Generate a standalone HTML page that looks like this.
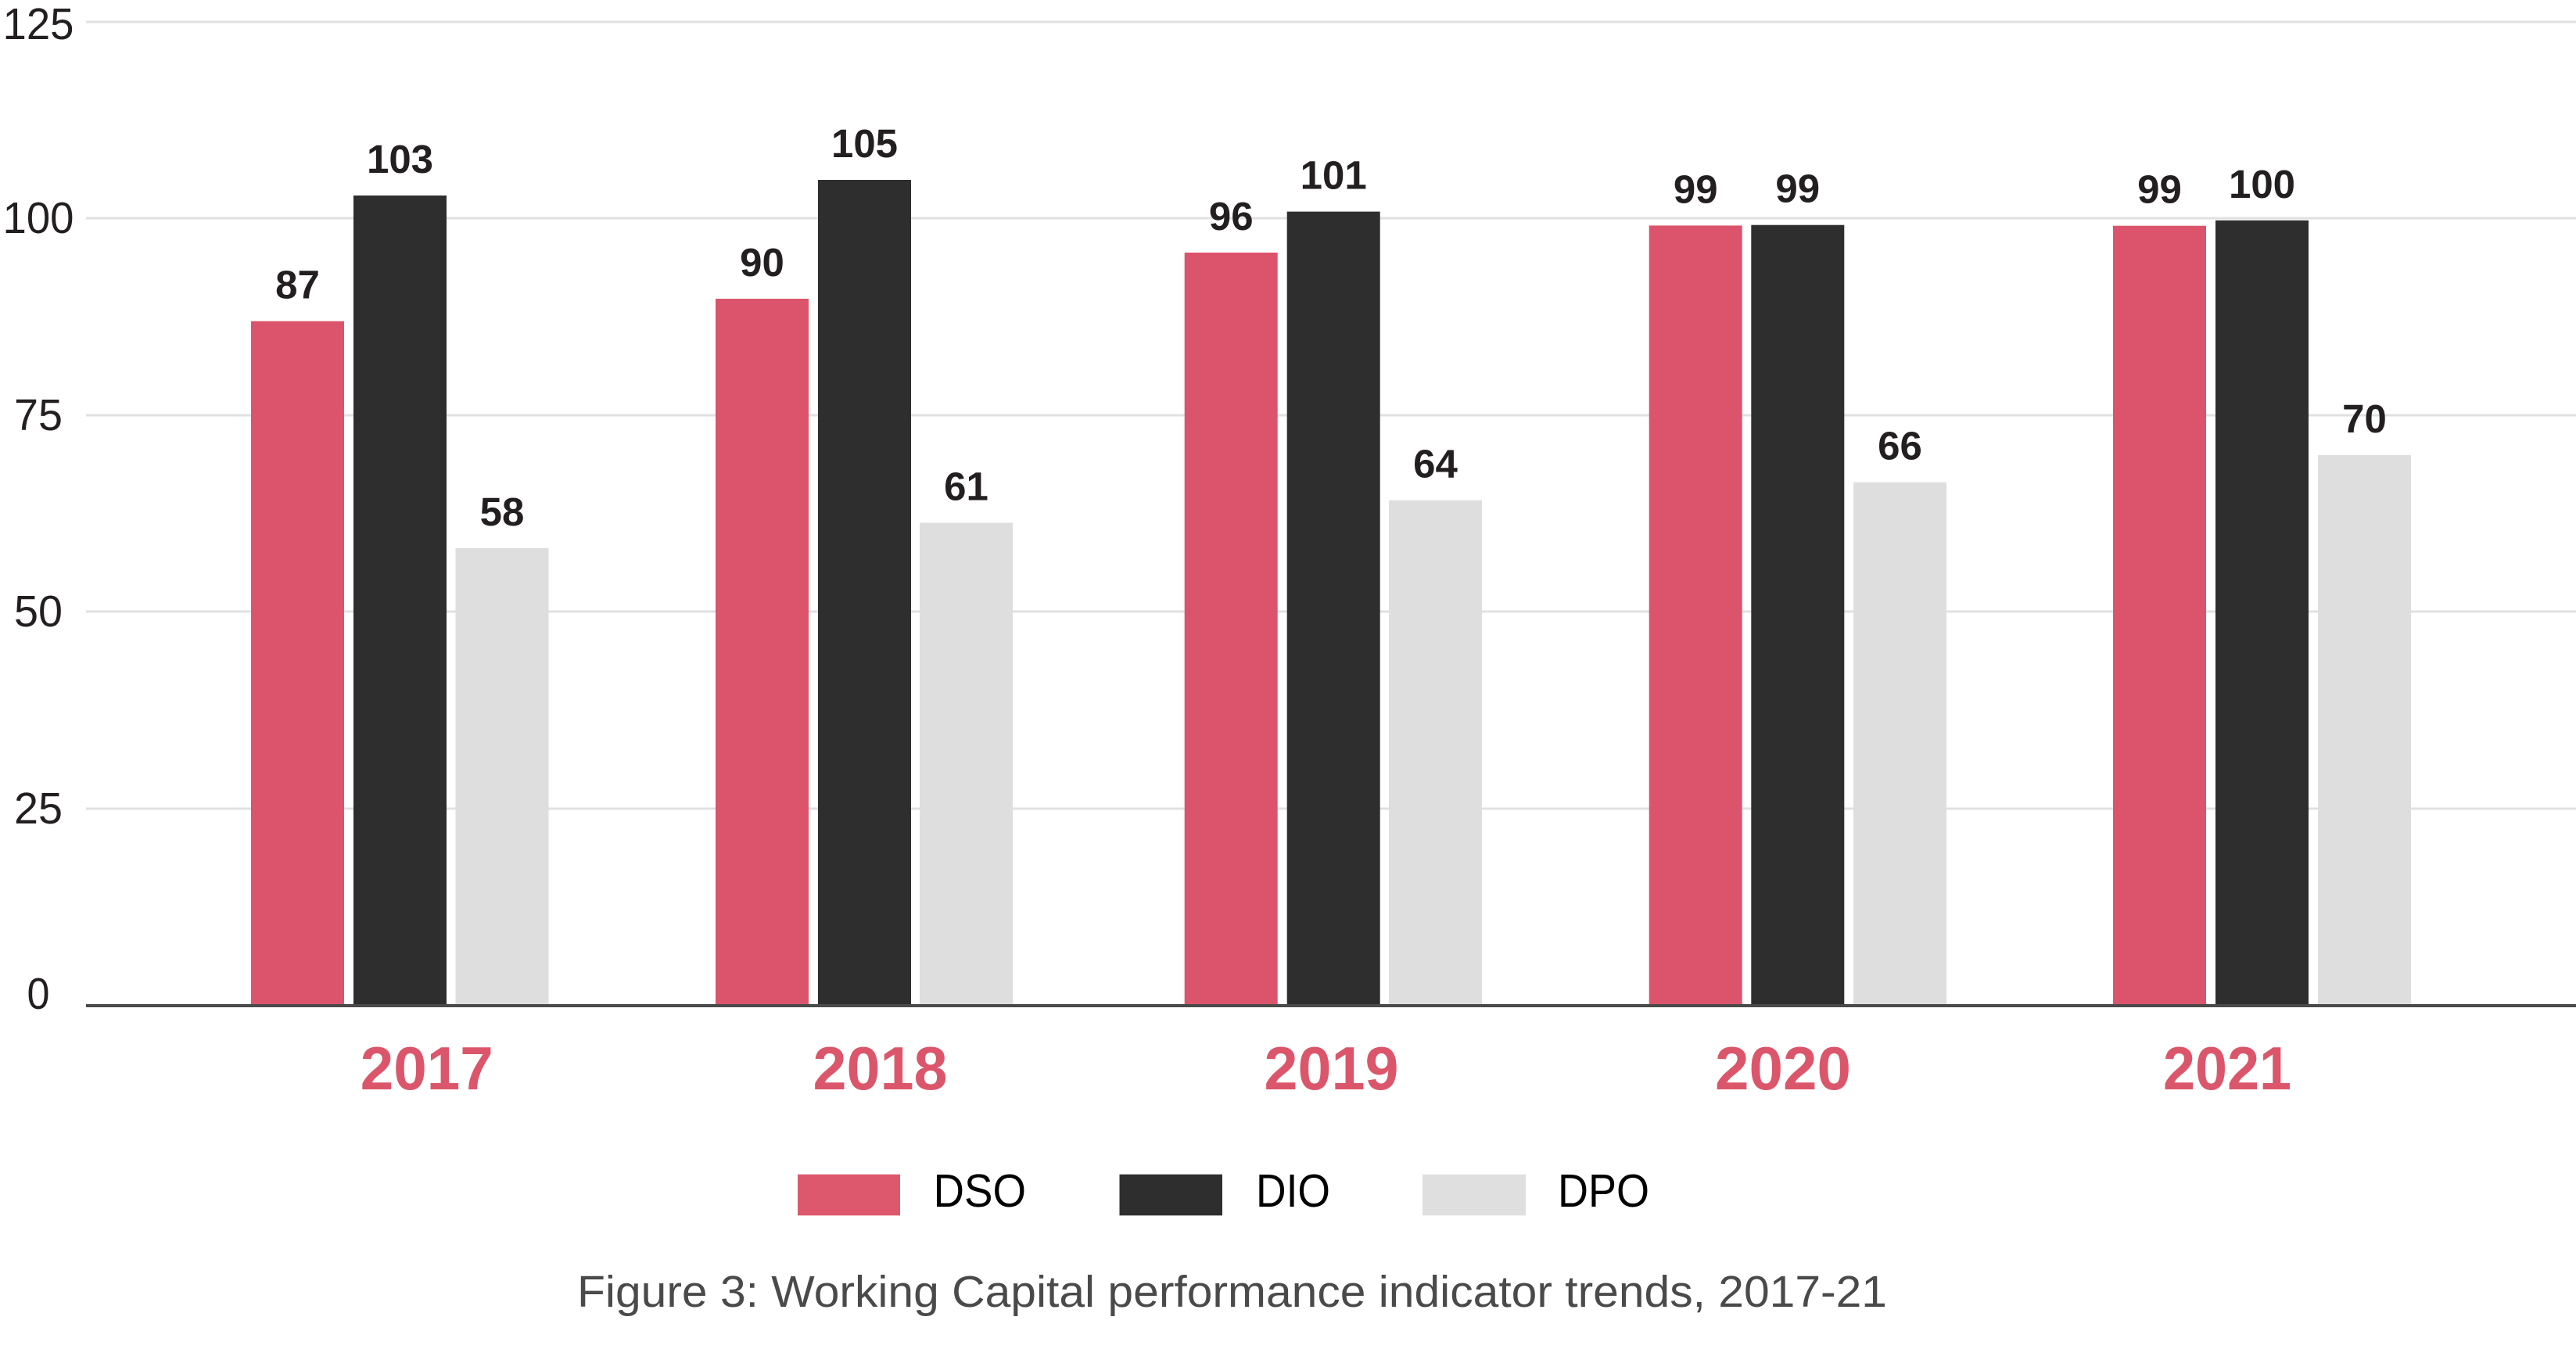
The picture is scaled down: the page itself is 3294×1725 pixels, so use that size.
<!DOCTYPE html>
<html>
<head>
<meta charset="utf-8">
<style>
  html, body { margin: 0; padding: 0; background: #ffffff; }
  body { width: 3294px; height: 1725px; overflow: hidden; }
  svg { display: block; }
  text { font-family: "Liberation Sans", Arial, Helvetica, sans-serif; }
</style>
</head>
<body>
<svg width="3294" height="1725" viewBox="0 0 3294 1725" xmlns="http://www.w3.org/2000/svg">
  <rect x="0" y="0" width="3294" height="1725" fill="#ffffff"/>

  <!-- gridlines -->
  <g fill="#e1e1e1">
    <rect x="110" y="26.5" width="3184" height="3"/>
    <rect x="110" y="277.5" width="3184" height="3"/>
    <rect x="110" y="529.5" width="3184" height="3"/>
    <rect x="110" y="780.5" width="3184" height="3"/>
    <rect x="110" y="1032.5" width="3184" height="3"/>
  </g>

  <!-- y-axis labels -->
  <g fill="#231f20" font-size="57" text-anchor="middle">
    <text x="49" y="50" textLength="91" lengthAdjust="spacingAndGlyphs">125</text>
    <text x="49" y="298" textLength="91" lengthAdjust="spacingAndGlyphs">100</text>
    <text x="49" y="550" textLength="62" lengthAdjust="spacingAndGlyphs">75</text>
    <text x="49" y="801" textLength="62" lengthAdjust="spacingAndGlyphs">50</text>
    <text x="49" y="1053" textLength="62" lengthAdjust="spacingAndGlyphs">25</text>
    <text x="49" y="1290" textLength="29" lengthAdjust="spacingAndGlyphs">0</text>
  </g>

  <!-- bars: DSO -->
  <g fill="#db546b">
    <rect x="321" y="410.7" width="119" height="875.3"/>
    <rect x="915" y="382" width="119" height="904"/>
    <rect x="1514.7" y="323" width="119" height="963"/>
    <rect x="2108.7" y="288.4" width="119" height="997.6"/>
    <rect x="2702" y="288.7" width="119" height="997.3"/>
  </g>
  <!-- bars: DIO -->
  <g fill="#2e2e2e">
    <rect x="452" y="250" width="119" height="1036"/>
    <rect x="1046" y="230" width="119" height="1056"/>
    <rect x="1645.7" y="270.6" width="119" height="1015.4"/>
    <rect x="2239.3" y="287.7" width="119" height="998.3"/>
    <rect x="2833" y="281.8" width="119" height="1004.2"/>
  </g>
  <!-- bars: DPO -->
  <g fill="#dedede">
    <rect x="582.5" y="701" width="119" height="585"/>
    <rect x="1176" y="668.5" width="119" height="617.5"/>
    <rect x="1776" y="639.7" width="119" height="646.3"/>
    <rect x="2370" y="616.7" width="119" height="669.3"/>
    <rect x="2964" y="581.8" width="119" height="704.2"/>
  </g>

  <!-- axis line -->
  <rect x="110" y="1284" width="3184" height="4" fill="#4a4a4a"/>

  <!-- value labels -->
  <g fill="#231f20" font-size="51" font-weight="bold" text-anchor="middle">
    <text x="380.5" y="381.7">87</text>
    <text x="511.5" y="221">103</text>
    <text x="642" y="672">58</text>

    <text x="974.5" y="353">90</text>
    <text x="1105.5" y="201">105</text>
    <text x="1235.5" y="639.5">61</text>

    <text x="1574.2" y="294">96</text>
    <text x="1705.2" y="241.6">101</text>
    <text x="1835.5" y="610.7">64</text>

    <text x="2168.2" y="259.4">99</text>
    <text x="2298.8" y="258.7">99</text>
    <text x="2429.5" y="587.7">66</text>

    <text x="2761.5" y="259.7">99</text>
    <text x="2892.5" y="252.8">100</text>
    <text x="3023.5" y="552.8">70</text>
  </g>

  <!-- x-axis category labels -->
  <g fill="#db566b" font-size="78" font-weight="bold" text-anchor="middle">
    <text x="545.8" y="1393" textLength="170" lengthAdjust="spacingAndGlyphs">2017</text>
    <text x="1125.5" y="1393" textLength="172" lengthAdjust="spacingAndGlyphs">2018</text>
    <text x="1702.5" y="1393" textLength="172" lengthAdjust="spacingAndGlyphs">2019</text>
    <text x="2280" y="1393" textLength="174" lengthAdjust="spacingAndGlyphs">2020</text>
    <text x="2848" y="1393" textLength="164" lengthAdjust="spacingAndGlyphs">2021</text>
  </g>

  <!-- legend -->
  <rect x="1020" y="1501.7" width="131" height="52.6" fill="#de586d"/>
  <rect x="1431.5" y="1501.7" width="131.5" height="52.6" fill="#2e2e2e"/>
  <rect x="1819" y="1501.7" width="132" height="52.6" fill="#e0dfe0"/>
  <g fill="#000000" font-size="59">
    <text x="1193.5" y="1543" textLength="118.5" lengthAdjust="spacingAndGlyphs">DSO</text>
    <text x="1606" y="1543" textLength="95" lengthAdjust="spacingAndGlyphs">DIO</text>
    <text x="1992" y="1543" textLength="117" lengthAdjust="spacingAndGlyphs">DPO</text>
  </g>

  <!-- caption -->
  <text x="738" y="1671" fill="#4a4a4a" font-size="57" textLength="1675" lengthAdjust="spacingAndGlyphs">Figure 3: Working Capital performance indicator trends, 2017-21</text>
</svg>
</body>
</html>
